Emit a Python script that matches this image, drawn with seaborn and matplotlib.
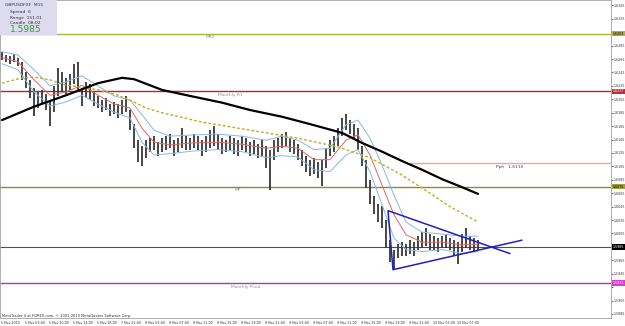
import matplotlib
matplotlib.use("Agg")
import matplotlib.pyplot as plt
from matplotlib.patches import Rectangle
import seaborn as sns
import numpy as np
import pandas as pd

# M15 bars (one every ~4 px)
bar_high = [1.6276, 1.6271, 1.6270, 1.6273, 1.6267, 1.6261, 1.6246, 1.6234, 1.6222, 1.6216,
            1.6219, 1.6213, 1.6204, 1.6225, 1.6252, 1.6246, 1.6237, 1.6243, 1.6258, 1.6261,
            1.6222, 1.6231, 1.6228, 1.6216, 1.6210, 1.6204, 1.6207, 1.6198, 1.6201, 1.6198,
            1.6204, 1.6210, 1.6189, 1.6168, 1.6144, 1.6135, 1.6144, 1.6147, 1.6150, 1.6141,
            1.6147, 1.6150, 1.6153, 1.6144, 1.6147, 1.6162, 1.6150, 1.6147, 1.6153, 1.6150,
            1.6144, 1.6150, 1.6159, 1.6165, 1.6153, 1.6147, 1.6144, 1.6150, 1.6147, 1.6144,
            1.6150, 1.6147, 1.6141, 1.6144, 1.6138, 1.6144, 1.6135, 1.6130, 1.6144, 1.6147,
            1.6153, 1.6156, 1.6147, 1.6144, 1.6138, 1.6130, 1.6121, 1.6115, 1.6118, 1.6112,
            1.6115, 1.6132, 1.6144, 1.6150, 1.6162, 1.6177, 1.6183, 1.6174, 1.6168, 1.6162,
            1.6135, 1.6115, 1.6085, 1.6061, 1.6049, 1.6046, 1.6025, 1.5995, 1.5980, 1.5989,
            1.5992, 1.5989, 1.5995, 1.5992, 1.6001, 1.6007, 1.6013, 1.6004, 1.6001, 1.5998,
            1.6001, 1.6004, 1.5998, 1.5995, 1.5992, 1.6004, 1.6013, 1.6001, 1.5998, 1.5995]
bar_low = [1.6264, 1.6261, 1.6258, 1.6261, 1.6255, 1.6234, 1.6222, 1.6207, 1.6180, 1.6192,
           1.6198, 1.6189, 1.6165, 1.6186, 1.6210, 1.6216, 1.6213, 1.6219, 1.6228, 1.6219,
           1.6195, 1.6207, 1.6204, 1.6195, 1.6192, 1.6186, 1.6189, 1.6180, 1.6183, 1.6177,
           1.6183, 1.6186, 1.6159, 1.6132, 1.6112, 1.6106, 1.6118, 1.6127, 1.6130, 1.6121,
           1.6127, 1.6130, 1.6132, 1.6121, 1.6127, 1.6132, 1.6130, 1.6130, 1.6132, 1.6130,
           1.6121, 1.6127, 1.6132, 1.6135, 1.6130, 1.6124, 1.6127, 1.6130, 1.6124, 1.6121,
           1.6130, 1.6127, 1.6121, 1.6124, 1.6118, 1.6121, 1.6103, 1.6070, 1.6115, 1.6127,
           1.6132, 1.6135, 1.6127, 1.6124, 1.6115, 1.6106, 1.6097, 1.6091, 1.6094, 1.6088,
           1.6076, 1.6103, 1.6121, 1.6127, 1.6135, 1.6150, 1.6159, 1.6153, 1.6147, 1.6130,
           1.6106, 1.6073, 1.6049, 1.6034, 1.6022, 1.6013, 1.5983, 1.5963, 1.5951, 1.5969,
           1.5972, 1.5972, 1.5975, 1.5972, 1.5980, 1.5983, 1.5986, 1.5980, 1.5980, 1.5977,
           1.5983, 1.5983, 1.5980, 1.5972, 1.5960, 1.5977, 1.5983, 1.5980, 1.5977, 1.5980]

# slow moving averages (bar index, price)
sma_slow_idx = [0, 8, 16, 24, 30, 33, 40, 47, 55, 62, 70, 77, 85, 90, 95, 100, 105, 110, 115, 119]
sma_slow = [1.6174, 1.6194, 1.6211, 1.6229, 1.6237, 1.6235, 1.6219, 1.6210, 1.6200, 1.6189,
            1.6179, 1.6168, 1.6155, 1.6140, 1.6127, 1.6113, 1.6100, 1.6086, 1.6074, 1.6064]
ema_mid_idx = [0, 5, 8, 12, 16, 20, 24, 29, 33, 36, 40, 50, 62, 74, 84, 92, 100, 107, 112, 119]
ema_mid = [1.6229, 1.6237, 1.6238, 1.6234, 1.6226, 1.6223, 1.6219, 1.6211, 1.6201, 1.6192,
           1.6185, 1.6171, 1.6159, 1.6147, 1.6134, 1.6118, 1.6092, 1.6065, 1.6045, 1.6022]

# fast average + envelope
band_idx = [0, 4, 8, 12, 16, 20, 24, 28, 32, 35, 38, 42, 48, 54, 60, 66, 70, 74, 78, 82,
            86, 89, 92, 95, 98, 101, 105, 110, 115, 119]
band_mid = [1.6267, 1.6261, 1.6234, 1.6211, 1.6216, 1.6226, 1.6211, 1.6198, 1.6192, 1.6162,
            1.6141, 1.6137, 1.6140, 1.6141, 1.6138, 1.6132, 1.6135, 1.6132, 1.6115, 1.6115,
            1.6144, 1.6152, 1.6122, 1.6077, 1.6033, 1.6003, 1.5992, 1.5992, 1.5988, 1.5989]
band_up = [1.6276, 1.6271, 1.6249, 1.6225, 1.6231, 1.6240, 1.6225, 1.6210, 1.6204, 1.6182,
           1.6159, 1.6150, 1.6152, 1.6153, 1.6150, 1.6144, 1.6150, 1.6144, 1.6130, 1.6132,
           1.6167, 1.6174, 1.6147, 1.6107, 1.6062, 1.6022, 1.6007, 1.6004, 1.6001, 1.6001]
band_low = [1.6258, 1.6249, 1.6216, 1.6195, 1.6201, 1.6211, 1.6198, 1.6186, 1.6177, 1.6141,
            1.6122, 1.6124, 1.6128, 1.6130, 1.6127, 1.6118, 1.6121, 1.6119, 1.6100, 1.6097,
            1.6122, 1.6130, 1.6097, 1.6048, 1.5998, 1.5981, 1.5978, 1.5981, 1.5975, 1.5978]

# triangle drawn by hand
tri_x = [127, 96.5, 97.75, 130]
tri_y = [1.5975, 1.6039, 1.5951, 1.5995]

# pivot levels
mr2 = 1.6303
mr1 = 1.6217
pph = 1.6110
mp = 1.6075
last_price = 1.5985
m_pivot = 1.5931

x_labels = ["5 Nov 2010", "5 Nov 06:00", "5 Nov 10:00", "5 Nov 14:00", "5 Nov 18:00",
            "7 Nov 22:00", "8 Nov 03:00", "8 Nov 07:00", "8 Nov 11:00", "8 Nov 15:00",
            "8 Nov 19:00", "8 Nov 23:00", "9 Nov 03:00", "9 Nov 07:00", "9 Nov 11:00",
            "9 Nov 15:00", "9 Nov 19:00", "9 Nov 23:00", "10 Nov 03:00", "10 Nov 07:00"]
y_ticks = [1.5885 + 0.0020 * k for k in range(24)]

sns.set_style("white")
plt.rcParams['font.family'] = ['DejaVu Sans']

fig = plt.figure(figsize=(6.25, 3.26), dpi=100)
ax = fig.add_axes([0, 8 / 326, 611 / 625, 318 / 326])

bars = np.arange(len(bar_high))
ax.vlines(bars, bar_low, bar_high, color='#383838', linewidth=1.3, zorder=3)

bands = pd.DataFrame({'idx': band_idx, 'mid': band_mid, 'up': band_up, 'low': band_low})
sns.lineplot(data=bands, x='idx', y='up', ax=ax, color='#8ab6e0', linewidth=0.7, zorder=4)
sns.lineplot(data=bands, x='idx', y='low', ax=ax, color='#8ab6e0', linewidth=0.7, zorder=4)
sns.lineplot(data=bands, x='idx', y='mid', ax=ax, color='#d86a6a', linewidth=0.7, zorder=4)
sns.lineplot(x=ema_mid_idx, y=ema_mid, ax=ax, color='#b8b020', linewidth=1.0,
             linestyle=(0, (2, 1.5)), zorder=5)
sns.lineplot(x=sma_slow_idx, y=sma_slow, ax=ax, color='black', linewidth=1.6, zorder=5)
ax.plot(tri_x, tri_y, color='#2020c0', linewidth=1.1, zorder=6)

ax.axhline(mr2, color='#b0b040', linewidth=1.0, zorder=2)
ax.axhline(mr1, color='#b02828', linewidth=1.0, zorder=2)
ax.plot([102, 153], [pph, pph], color='#e8a8a8', linewidth=1.0, zorder=2)
ax.axhline(mp, color='#8a8a30', linewidth=1.0, zorder=2)
ax.axhline(last_price, color='#505050', linewidth=0.8, zorder=2)
ax.axhline(m_pivot, color='#a040a8', linewidth=1.0, zorder=2)

lbl = dict(textcoords='offset points', xytext=(0, -1.2), ha='center', va='top',
           fontsize=3.2, color='#909090')
ax.annotate('MR2', xy=(52, mr2), **lbl)
ax.annotate('Monthly R1', xy=(57, mr1), **lbl)
ax.annotate('MP', xy=(59, mp), **lbl)
ax.annotate('Monthly Pivot', xy=(61, m_pivot), **lbl)
ax.annotate('Pph   1.6110', xy=(127, pph), textcoords='offset points', xytext=(0, -1.2),
            ha='center', va='top', fontsize=3.2, color='#404060')

# levels that carry a price tag on the axis hide the tick label underneath
tag_levels = [mr2, mr1, mp, last_price, m_pivot]
y_tick_text = ['' if min(abs(v - t) for t in tag_levels) < 0.0006 else '%.4f' % v
               for v in y_ticks]

ax.set_xlim(-0.5, 152.25)
ax.set_ylim(1.5879, 1.6353)
ax.set_xticks([6 * k - 0.3 for k in range(len(x_labels))])
ax.set_xticklabels(x_labels, ha='left')
ax.set_yticks(y_ticks)
ax.set_yticklabels(y_tick_text, ha='left')
ax.yaxis.tick_right()
ax.tick_params(axis='both', length=1.5, width=0.5, labelsize=2.3, pad=0.6, colors='#303030')
ax.set_xlabel('')
ax.set_ylabel('')
for s in ax.spines.values():
    s.set_color('#a0a0a0')
    s.set_linewidth(0.6)

tags = [(mr2, '#b0b040', 'black'), (mr1, '#c03030', 'white'), (mp, '#a0a040', 'black'),
        (last_price, 'black', 'white'), (m_pivot, '#d040d0', 'white')]
for val, fc, tc in tags:
    ax.text(1.0025, val, '%.4f' % val, transform=ax.get_yaxis_transform(), fontsize=2.3,
            color=tc, va='center', ha='left',
            bbox=dict(boxstyle='square,pad=0.2', fc=fc, ec='none'), clip_on=False)

# info panel
fig.add_artist(Rectangle((0, 1 - 35 / 326), 57 / 625, 35 / 326, transform=fig.transFigure,
                         facecolor='#dcdcee', edgecolor='none', zorder=10))
info = [("GBPUSDFXF  M15", 5, 5), ("Spread  6", 10, 11.5), ("Range  151.01", 10, 17.5),
        ("Candle  08:02", 10, 23.5)]
for txt, px, py in info:
    fig.text(px / 625, 1 - py / 326, txt, fontsize=3.2, color='#303040', va='center',
             zorder=11)
fig.text(10 / 625, 1 - 30 / 326, '1.5985', fontsize=6.5, color='#30a030', va='center',
         zorder=11)
fig.text(2 / 625, 1 - 316 / 326, 'MetaTrader 4 at FOREX.com, \u00a9 2001-2010 MetaQuotes Software Corp.',
         fontsize=2.6, color='#303030', va='center')

fig.savefig('out.png', dpi=100)
